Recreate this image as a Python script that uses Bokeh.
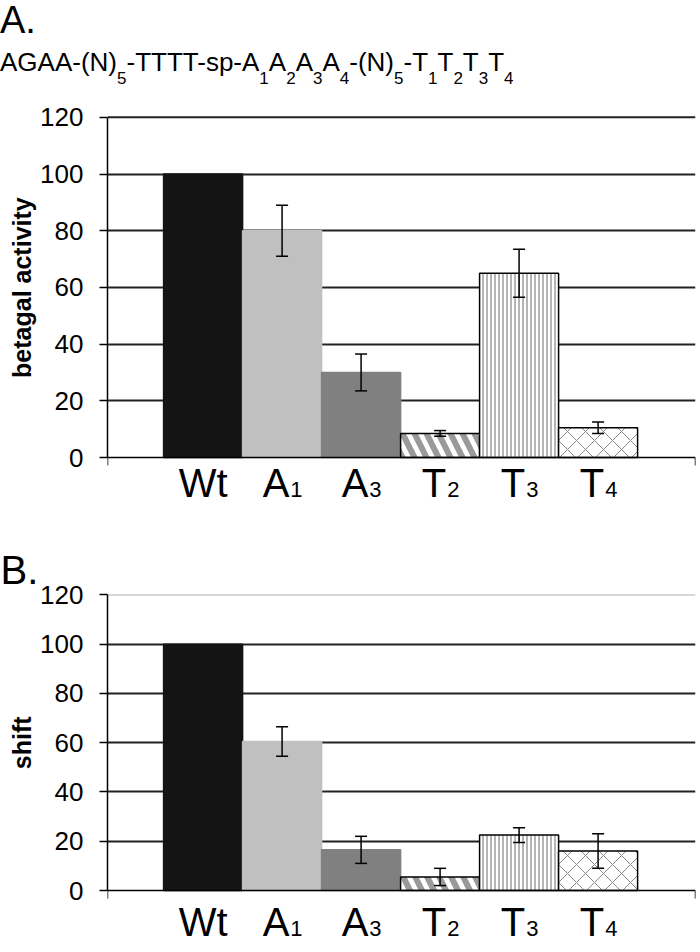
from bokeh.plotting import figure
from bokeh.models import (Range1d, FixedTicker, ColumnDataSource, Whisker, TeeHead,
                          Div, Span, CustomJSTickFormatter, Title)
from bokeh.core.properties import value
from bokeh.layouts import column
from bokeh.embed import file_html
from bokeh.resources import INLINE

# ---------------- data ----------------
categories = ["Wt", "A1", "A3", "T2", "T3", "T4"]
betagal = [100, 80, 30, 8.5, 65, 10.5]
betagal_err = [0, 9, 6.5, 1, 8.5, 2]
shift = [100, 60.5, 16.5, 5.5, 22.5, 16]
shift_err = [0, 6, 5.5, 3.5, 3, 7]
y_ticks = [0, 20, 40, 60, 80, 100, 120]
formula_parts = [("AGAA-(N)", "5"), ("-TTTT-sp-A", "1"), ("A", "2"), ("A", "3"), ("A", "4"),
                 ("-(N)", "5"), ("-T", "1"), ("T", "2"), ("T", "3"), ("T", "4")]

# ---------------- styles ----------------
FONT = "Liberation Sans"
fills = ["#141414", "#c0c0c0", "#808080", "#ffffff", "#ffffff", "#ffffff"]
outlines = ["#141414", "#c0c0c0", "#808080", "#000000", "#000000", "#000000"]
hatches = [" ", " ", " ", "left_diagonal_line", "vertical_line", "diagonal_cross"]
hatch_colors = ["#000000", "#000000", "#000000", "#9a9a9a", "#6a6a6a", "#8a8a8a"]
hatch_scales = [8, 8, 8, 24, 4, 18]
hatch_weights = [1, 1, 1, 6, 1, 1]
letter_w = {"A": 0.667, "T": 0.611}

FIG_W = 700
LEFT = 107
FRAME_W = 588
RIGHT = FIG_W - LEFT - FRAME_W
PITCH = 79.0
XMAX = FRAME_W / PITCH
X0 = 1.21
YEND = 121
MAIN_PX = 40
SUB_PX = 22
YLABEL_PX = 25


def make_panel(values, errs, ylabel, ylabel_len, height, top, plot_h, below_px, label_drop,
               top_grid_color="#222222", letter=None):
    """plot_h: pixel height of 0..YEND; below_px: frame pixels below the zero line."""
    scale = plot_h / YEND
    ymin = -below_px / scale
    xs = [X0 + i for i in range(len(categories))]
    p = figure(width=FIG_W, height=height, output_backend="svg", toolbar_location=None,
               x_range=Range1d(0, XMAX), y_range=Range1d(ymin, YEND),
               x_axis_location="above",
               min_border_left=LEFT, min_border_right=RIGHT,
               min_border_top=top, min_border_bottom=0)
    p.outline_line_color = None
    p.background_fill_color = "white"
    p.border_fill_color = "white"

    p.xgrid.visible = False
    p.ygrid.ticker = FixedTicker(ticks=[t for t in y_ticks if 0 < t < 120])
    p.ygrid.grid_line_color = "#222222"
    p.ygrid.grid_line_width = 2
    p.add_layout(Span(location=120, dimension="width", line_color=top_grid_color,
                      line_width=2, level="underlay"))

    src = ColumnDataSource(dict(x=xs, top=values, fill=fills, line=outlines,
                                hatch=hatches, hc=hatch_colors, hs=hatch_scales,
                                hw=hatch_weights))
    p.vbar(x="x", top="top", bottom=0, width=1.0, source=src,
           fill_color="fill", line_color="line", line_width=1.5,
           hatch_pattern="hatch", hatch_color="hc", hatch_scale="hs", hatch_weight="hw")

    ex = [x for x, e in zip(xs, errs) if e > 0]
    ev = [v for v, e in zip(values, errs) if e > 0]
    ee = [e for e in errs if e > 0]
    esrc = ColumnDataSource(dict(x=ex, upper=[v + e for v, e in zip(ev, ee)],
                                 lower=[v - e for v, e in zip(ev, ee)]))
    w = Whisker(base="x", upper="upper", lower="lower", source=esrc, dimension="height",
                line_color="black", line_width=1.5, level="overlay",
                upper_head=TeeHead(size=12, line_width=1.5, line_color="black"),
                lower_head=TeeHead(size=12, line_width=1.5, line_color="black"))
    p.add_layout(w)

    # y axis
    ya = p.yaxis[0]
    ya.ticker = FixedTicker(ticks=y_ticks)
    ya.bounds = (0, 120)
    ya.axis_line_color = "black"
    ya.axis_line_width = 1.5
    ya.major_tick_line_width = 1.5
    ya.major_tick_in = 0
    ya.major_tick_out = 8
    ya.minor_tick_line_color = None
    ya.major_label_text_font = FONT
    ya.major_label_text_font_size = "26px"
    ya.major_label_text_color = "black"
    ya.major_label_standoff = 16

    # y-axis title, centred on the 0-120 part of the axis
    centre_from_bottom = below_px + 60 * scale
    p.add_layout(Title(text=ylabel, align="left",
                       offset=centre_from_bottom - ylabel_len / 2, standoff=4,
                       text_font=FONT, text_font_size=f"{YLABEL_PX}px",
                       text_font_style="bold", text_color="black"), "left")

    # x axis: drawn on the zero line, ticks only at both ends, pointing down
    xa = p.xaxis[0]
    xa.fixed_location = 0
    xa.ticker = FixedTicker(ticks=[0, XMAX])
    xa.formatter = CustomJSTickFormatter(code="return ''")
    xa.axis_line_color = "black"
    xa.axis_line_width = 1.5
    xa.major_tick_line_width = 1.5
    xa.major_tick_in = 8
    xa.major_tick_out = 0
    xa.minor_tick_line_color = None
    xa.major_label_standoff = 0
    xa.major_label_text_font_size = "1px"

    # category labels with subscripts, below the zero line
    mains = [c.rstrip("0123456789") for c in categories]
    subs = [c[len(m):] for c, m in zip(categories, mains)]
    offs = [(letter_w.get(m, 0.65) * MAIN_PX - 0.556 * SUB_PX * len(sb)) / 2
            for m, sb in zip(mains, subs)]
    main_src = ColumnDataSource(dict(
        x=xs, y=[-label_drop / scale] * len(xs), text=mains,
        align=["right" if sb else "center" for sb in subs],
        xo=[o if sb else 0 for o, sb in zip(offs, subs)]))
    p.text(x="x", y="y", text="text", text_align="align", x_offset="xo", source=main_src,
           text_baseline="alphabetic", text_font=value(FONT),
           text_font_size=f"{MAIN_PX}px", text_color="black")
    sx = [x for x, sb in zip(xs, subs) if sb]
    sub_src = ColumnDataSource(dict(
        x=sx, y=[-(label_drop + 7) / scale] * len(sx), text=[sb for sb in subs if sb],
        xo=[o + 1 for o, sb in zip(offs, subs) if sb]))
    p.text(x="x", y="y", text="text", text_align="left", x_offset="xo", source=sub_src,
           text_baseline="alphabetic", text_font=value(FONT),
           text_font_size=f"{SUB_PX}px", text_color="black")

    if letter:
        p.add_layout(Title(text=letter, align="left", offset=-LEFT, standoff=1,
                           text_font=FONT, text_font_size="40px", text_font_style="normal",
                           text_color="black"), "above")
    return p


def subspan(d):
    return f'<span style="font-size:17px;vertical-align:-13px">{d}</span>'


formula_html = "".join(m + subspan(s) for m, s in formula_parts)
header_html = (
    f'<div style="position:relative;width:{FIG_W}px;height:98px;font-family:\'{FONT}\';color:#000;">'
    '<div style="position:absolute;left:0px;top:0px;font-size:38px;line-height:40px;">A.</div>'
    f'<div style="position:absolute;left:0px;top:47px;font-size:26px;line-height:30px;white-space:nowrap;">{formula_html}</div>'
    '</div>'
)
header = Div(text=header_html, width=FIG_W, height=98, margin=(0, 0, 0, 0))

# page rows: header 0-98, panel A 98-540, panel B 540-952
p1 = make_panel(betagal, betagal_err, "betagal activity", 181, 442, 16, 343, 83, 25)
p2 = make_panel(shift, shift_err, "shift", 53, 412, 52, 298, 62, 31,
                top_grid_color="#d8d8d8", letter="B.")

layout = column(header, p1, p2, spacing=0)
open("out.html", "w").write(file_html(layout, INLINE))
